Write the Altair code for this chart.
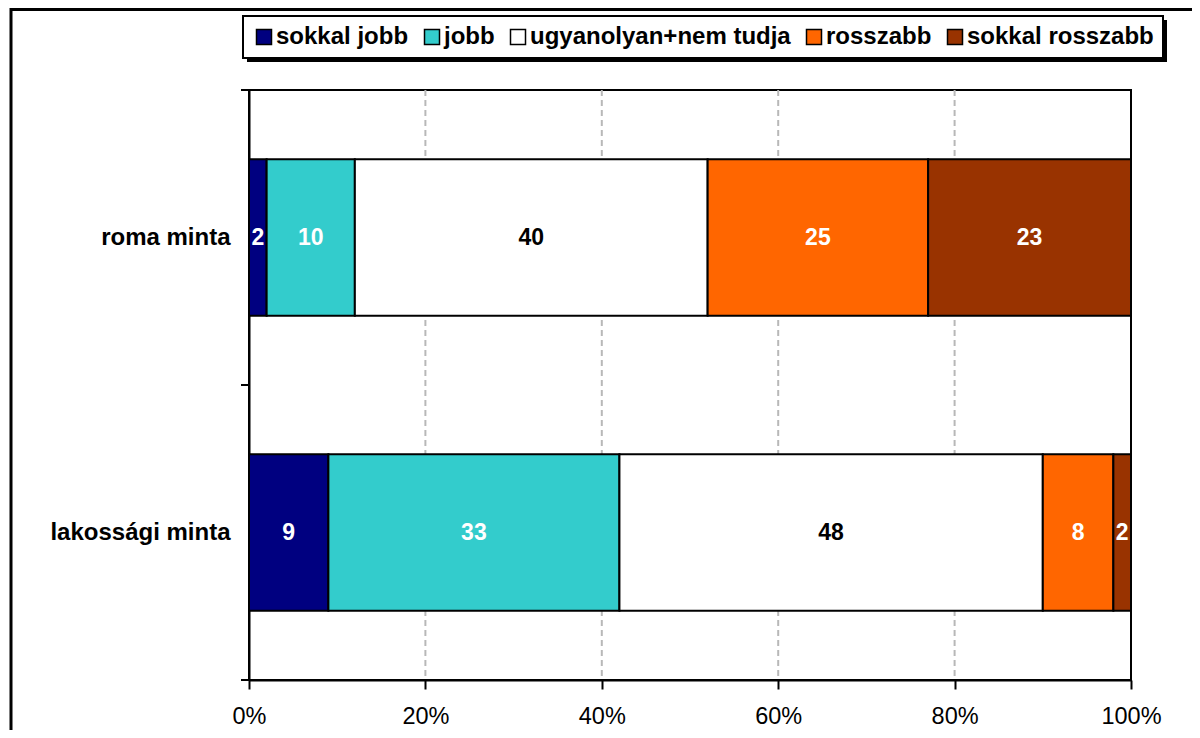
import altair as alt
import pandas as pd

samples = ["roma minta", "lakossági minta"]
categories = ["sokkal jobb", "jobb", "ugyanolyan+nem tudja", "rosszabb", "sokkal rosszabb"]
roma_values = [2, 10, 40, 25, 23]
lakossagi_values = [9, 33, 48, 8, 2]
colors = ["#000080", "#33CCCC", "#FFFFFF", "#FF6600", "#993300"]
x_ticks = [0, 20, 40, 60, 80, 100]
grid_values = [20, 40, 60, 80]

rows = []
for s, vals in zip(samples, [roma_values, lakossagi_values]):
    for i, (c, v) in enumerate(zip(categories, vals)):
        rows.append({"sample": s, "category": c, "value": v, "order": i})
df = pd.DataFrame(rows)

W, H = 882, 590
FONT = "Liberation Sans"

base = alt.Chart(df).transform_stack(
    stack="value", groupby=["sample"], as_=["x0", "x1"],
    sort=[alt.SortField("order", order="ascending")]
).transform_calculate(mid="(datum.x0 + datum.x1) / 2")

x_scale = alt.Scale(domain=[0, 100], nice=False)

y_enc = alt.Y(
    "sample:N", sort=samples,
    scale=alt.Scale(paddingInner=0.47, paddingOuter=0.235),
    axis=alt.Axis(title=None, ticks=False, domainColor="black", domainWidth=2,
                  labelFont=FONT, labelFontSize=24, labelFontWeight="bold",
                  labelColor="black", labelPadding=19, labelLimit=0),
)

grid = alt.Chart(pd.DataFrame({"g": grid_values})).mark_rule(
    color="#b8b8b8", strokeWidth=2, strokeDash=[6, 4]
).encode(x=alt.X("g:Q", scale=x_scale))

bars = base.mark_bar(stroke="black", strokeWidth=2).encode(
    y=y_enc,
    x=alt.X("x0:Q", scale=x_scale,
            axis=alt.Axis(values=x_ticks, labelExpr="datum.value + '%'", title=None,
                          grid=False, labelFlush=False, labelOverlap=False,
                          tickSize=9, tickColor="black", tickWidth=2,
                          domainColor="black", domainWidth=2,
                          labelFont=FONT, labelFontSize=23.5, labelColor="black",
                          labelPadding=15)),
    x2="x1:Q",
    color=alt.Color("category:N", sort=categories,
                    scale=alt.Scale(domain=categories, range=colors),
                    legend=alt.Legend(orient="none", legendX=-6, legendY=-74,
                                      direction="horizontal", title=None,
                                      symbolType="square", symbolSize=225,
                                      symbolStrokeColor="black", symbolStrokeWidth=1.5,
                                      labelFont=FONT, labelFontSize=24, labelFontWeight="bold",
                                      labelColor="black", labelOffset=0, labelLimit=0,
                                      columnPadding=11, padding=9,
                                      strokeColor="black", fillColor="white")),
)

labels = base.mark_text(font=FONT, fontSize=23, fontWeight="bold").encode(
    y=alt.Y("sample:N", sort=samples),
    x=alt.X("mid:Q"),
    text=alt.Text("value:Q"),
    color=alt.condition("datum.category == 'ugyanolyan+nem tudja'",
                        alt.value("black"), alt.value("white")),
)

one = alt.Data(values=[{}])
border = alt.Chart(one).mark_rect(fillOpacity=0, stroke="black", strokeWidth=3).encode(
    x=alt.value(-238), x2=alt.value(W + 300), y=alt.value(-80.5), y2=alt.value(H + 300))
shadow = alt.Chart(one).mark_rect(color="black").encode(
    x=alt.value(-2), x2=alt.value(918), y=alt.value(-70), y2=alt.value(-28))
yt = [alt.Chart(one).mark_rule(color="black", strokeWidth=2).encode(
    x=alt.value(-8), x2=alt.value(0), y=alt.value(v)) for v in (0, H / 2, H)]

chart = alt.layer(border, shadow, grid, bars, labels, *yt).properties(
    width=W, height=H,
    autosize=alt.AutoSizeParams(type="none"),
    padding={"left": 241, "top": 82, "right": 61, "bottom": 50},
).configure_view(stroke="black", strokeWidth=2).configure_legend(strokeWidth=2)

chart.save("out.html", embed_options={"renderer": "svg", "actions": False})
